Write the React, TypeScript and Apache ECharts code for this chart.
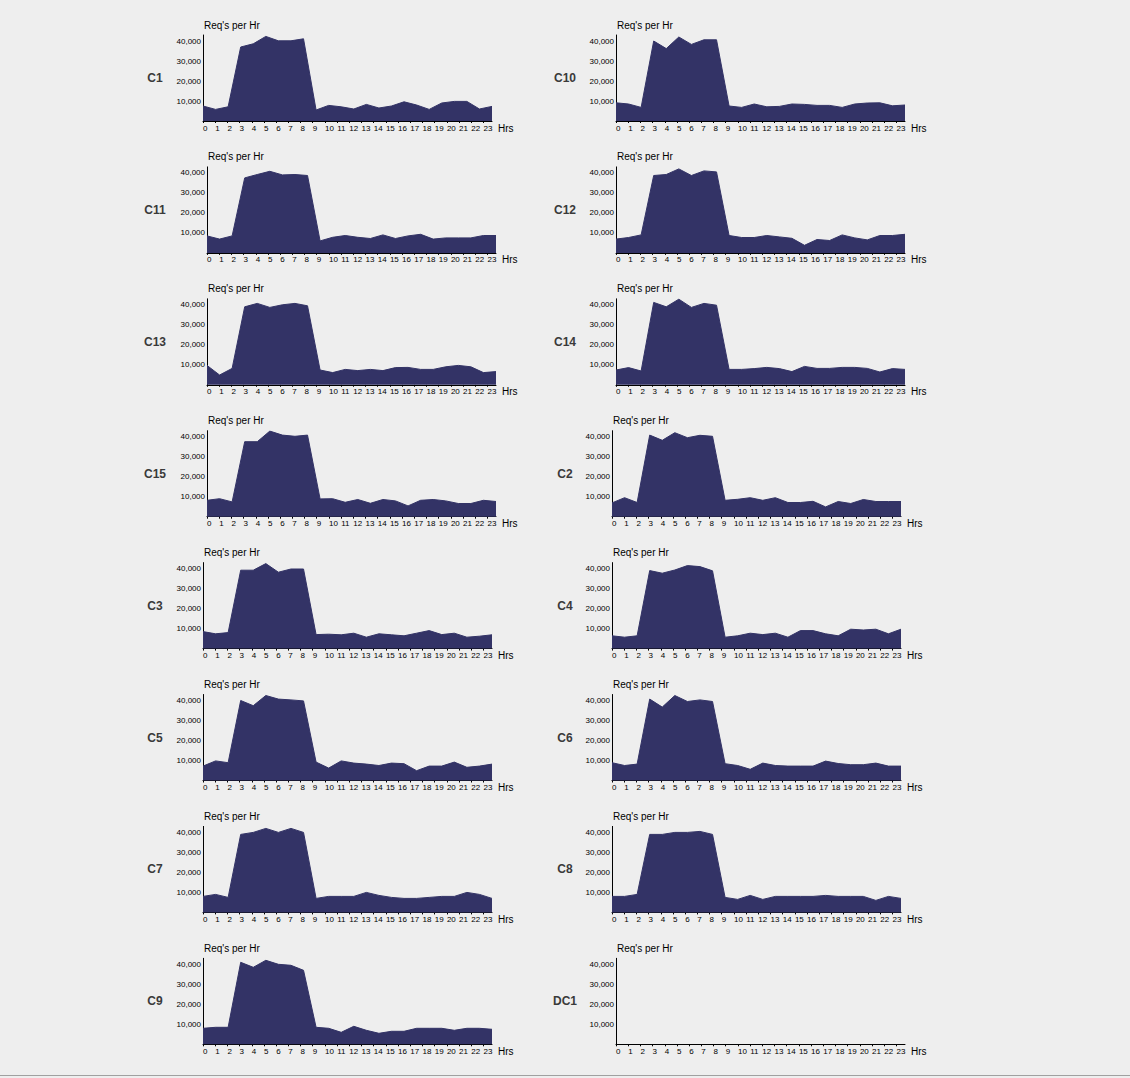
import React, { useEffect, useRef } from "react";
import * as echarts from "echarts";

const HOUR_LABELS = ["0","1","2","3","4","5","6","7","8","9","10","11","12","13","14","15","16","17","18","19","20","21","22","23"];
const Y_TICKS = [10000, 20000, 30000, 40000];

const C1 = [7500, 5800, 7100, 37000, 38600, 42300, 40100, 40100, 41100, 5500, 7800, 7100, 6000, 8300, 6500, 7500, 9600, 8000, 5800, 9000, 9800, 9800, 6000, 7300];
const C10 = [9100, 8500, 6800, 40000, 36200, 42000, 38300, 40600, 40600, 7500, 6800, 8500, 7100, 7300, 8500, 8300, 7800, 7800, 6800, 8500, 9000, 9100, 7600, 8000];
const C11 = [8500, 6900, 8500, 37500, 39200, 40800, 39000, 39200, 38700, 6000, 7800, 8700, 7800, 7200, 9000, 7200, 8500, 9300, 6900, 7500, 7500, 7500, 8700, 8700];
const C12 = [6900, 7700, 9000, 38700, 39200, 42000, 38700, 41000, 40500, 8700, 7700, 7700, 8700, 8000, 7300, 3800, 6700, 6200, 9000, 7500, 6500, 8700, 8700, 9300];
const C13 = [9700, 4900, 8200, 39000, 40700, 38700, 40000, 40700, 39500, 7400, 6100, 7700, 7100, 7700, 7100, 8600, 8700, 7700, 7700, 9000, 9700, 9000, 6100, 6600];
const C14 = [7400, 8600, 6900, 41200, 39000, 42800, 38700, 40700, 39800, 7700, 7700, 8100, 8700, 8100, 6600, 9200, 8200, 8200, 8700, 8700, 8200, 6400, 8100, 7700];
const C15 = [8200, 9000, 7400, 37500, 37500, 42800, 40800, 40200, 40800, 8900, 9000, 7200, 8600, 6700, 8600, 7900, 5400, 8200, 8600, 7900, 6600, 6600, 8200, 7600];
const C2 = [6900, 9500, 7100, 40800, 38200, 42000, 39500, 40700, 40200, 8200, 8700, 9500, 8200, 9500, 7100, 7100, 7700, 4900, 7600, 6600, 8600, 7600, 7600, 7600];
const C3 = [8500, 7400, 8000, 39200, 39200, 42500, 38200, 39800, 39800, 7000, 7200, 6900, 7700, 5700, 7400, 6900, 6400, 7700, 9000, 7000, 7700, 5700, 6200, 6900];
const C4 = [6400, 5700, 6400, 39000, 37700, 39300, 41500, 41000, 38900, 5700, 6400, 7700, 7000, 7700, 5700, 9000, 9000, 7400, 6400, 9700, 9300, 9700, 7400, 9700];
const C5 = [7200, 9800, 8900, 40000, 37400, 42500, 40700, 40300, 39800, 9200, 6200, 9800, 8700, 8200, 7500, 8700, 8400, 4900, 7200, 7200, 9200, 6600, 7200, 8200];
const C6 = [8900, 7500, 8200, 40700, 36700, 42500, 39500, 40300, 39500, 8400, 7500, 5600, 8700, 7500, 7200, 7200, 7200, 9700, 8500, 7900, 7900, 8700, 7200, 7200];
const C7 = [8000, 9000, 7500, 39000, 40000, 42000, 40000, 42000, 40000, 7000, 8000, 8000, 8000, 10000, 8500, 7500, 7000, 7000, 7500, 8000, 8000, 10000, 9000, 7000];
const C8 = [8000, 8000, 9000, 39000, 39000, 40000, 40000, 40500, 39000, 7500, 6500, 8500, 6500, 8000, 8000, 8000, 8000, 8500, 8000, 8000, 8000, 6000, 8000, 7000];
const C9 = [8000, 8500, 8500, 41000, 38500, 42000, 40000, 39500, 37000, 8500, 8000, 6000, 9000, 7000, 5500, 6500, 6500, 8000, 8000, 8000, 7000, 8000, 8000, 7500];
const DC1: number[] = [];

const CHART_NAMES = ["C1", "C10", "C11", "C12", "C13", "C14", "C15", "C2", "C3", "C4", "C5", "C6", "C7", "C8", "C9", "DC1"];
const CHART_DATA = [C1, C10, C11, C12, C13, C14, C15, C2, C3, C4, C5, C6, C7, C8, C9, DC1];

const FILL = "#333366";
const FONT = "'Liberation Sans', Arial, sans-serif";

export default function App() {
  const ref = useRef<HTMLDivElement>(null);
  useEffect(() => {
    if (!ref.current) return;
    const chart = echarts.init(ref.current, null, { renderer: "svg" });
    const grid: any[] = [];
    const xAxis: any[] = [];
    const yAxis: any[] = [];
    const series: any[] = [];
    const graphic: any[] = [];
    const ROW0 = 121;
    const PITCH = 131.9;
    const GH = 86;
    const GW = 289;
    CHART_NAMES.forEach((name, i) => {
      const col = i % 2;
      const row = Math.floor(i / 2);
      const base = ROW0 + PITCH * row;
      const ax = (col === 0 ? 203 : 612) + (name.length === 3 ? 4 : 0);
      grid.push({ left: ax, top: base - GH, width: GW, height: GH });
      xAxis.push({
        type: "value",
        gridIndex: i,
        position: "bottom",
        min: 0,
        max: 23.7,
        interval: 1,
        axisLine: { show: true, onZero: false, lineStyle: { color: "#000", width: 1 } },
        axisTick: { show: true, length: 2, lineStyle: { color: "#000" } },
        splitLine: { show: false },
        axisLabel: {
          fontSize: 8,
          fontFamily: FONT,
          color: "#000",
          margin: 3,
          align: "left",
          showMaxLabel: false,
          formatter: (v: number) => (Number.isInteger(v) && HOUR_LABELS[v] !== undefined ? HOUR_LABELS[v] : ""),
        },
      });
      xAxis.push({
        type: "category",
        gridIndex: i,
        position: "top",
        data: HOUR_LABELS,
        boundaryGap: false,
        show: false,
      });
      yAxis.push({
        type: "value",
        gridIndex: i,
        min: 0,
        max: 43000,
        interval: 10000,
        axisLine: { show: true, lineStyle: { color: "#000", width: 1 } },
        axisTick: { show: false },
        splitLine: { show: false },
        axisLabel: {
          fontSize: 8,
          fontFamily: FONT,
          color: "#000",
          margin: 2,
          showMaxLabel: false,
          formatter: (v: number) => (Y_TICKS.indexOf(v) >= 0 ? v.toLocaleString("en-US") : ""),
        },
      });
      series.push({
        type: "line",
        xAxisIndex: 2 * i + 1,
        yAxisIndex: i,
        data: CHART_DATA[i],
        symbol: "none",
        silent: true,
        lineStyle: { width: 1, color: FILL },
        areaStyle: { color: FILL, opacity: 1 },
      });
      graphic.push({
        type: "text",
        x: ax + 1,
        y: base - 96,
        style: { text: "Req's per Hr", fontSize: 10, fontFamily: FONT, fill: "#000", verticalAlign: "middle", align: "left" },
      });
      graphic.push({
        type: "text",
        x: ax + GW + 6,
        y: base + 7,
        style: { text: "Hrs", fontSize: 10, fontFamily: FONT, fill: "#000", verticalAlign: "middle", align: "left" },
      });
      graphic.push({
        type: "text",
        x: col === 0 ? 155 : 565,
        y: base - 43,
        style: { text: name, fontSize: 12, fontWeight: "bold", fontFamily: FONT, fill: "#3a3a3a", verticalAlign: "middle", align: "center" },
      });
    });
    graphic.push({
      type: "line",
      shape: { x1: 0, y1: 1075.5, x2: 1130, y2: 1075.5 },
      style: { stroke: "#a0a0a0", lineWidth: 1 },
    });
    chart.setOption({
      animation: false,
      backgroundColor: "#EEEEEE",
      grid,
      xAxis,
      yAxis,
      series,
      graphic,
    });
    return () => chart.dispose();
  }, []);
  return (
    <div
      ref={ref}
      style={{ position: "absolute", left: 0, top: 0, width: 1130, height: 1078 }}
    />
  );
}
